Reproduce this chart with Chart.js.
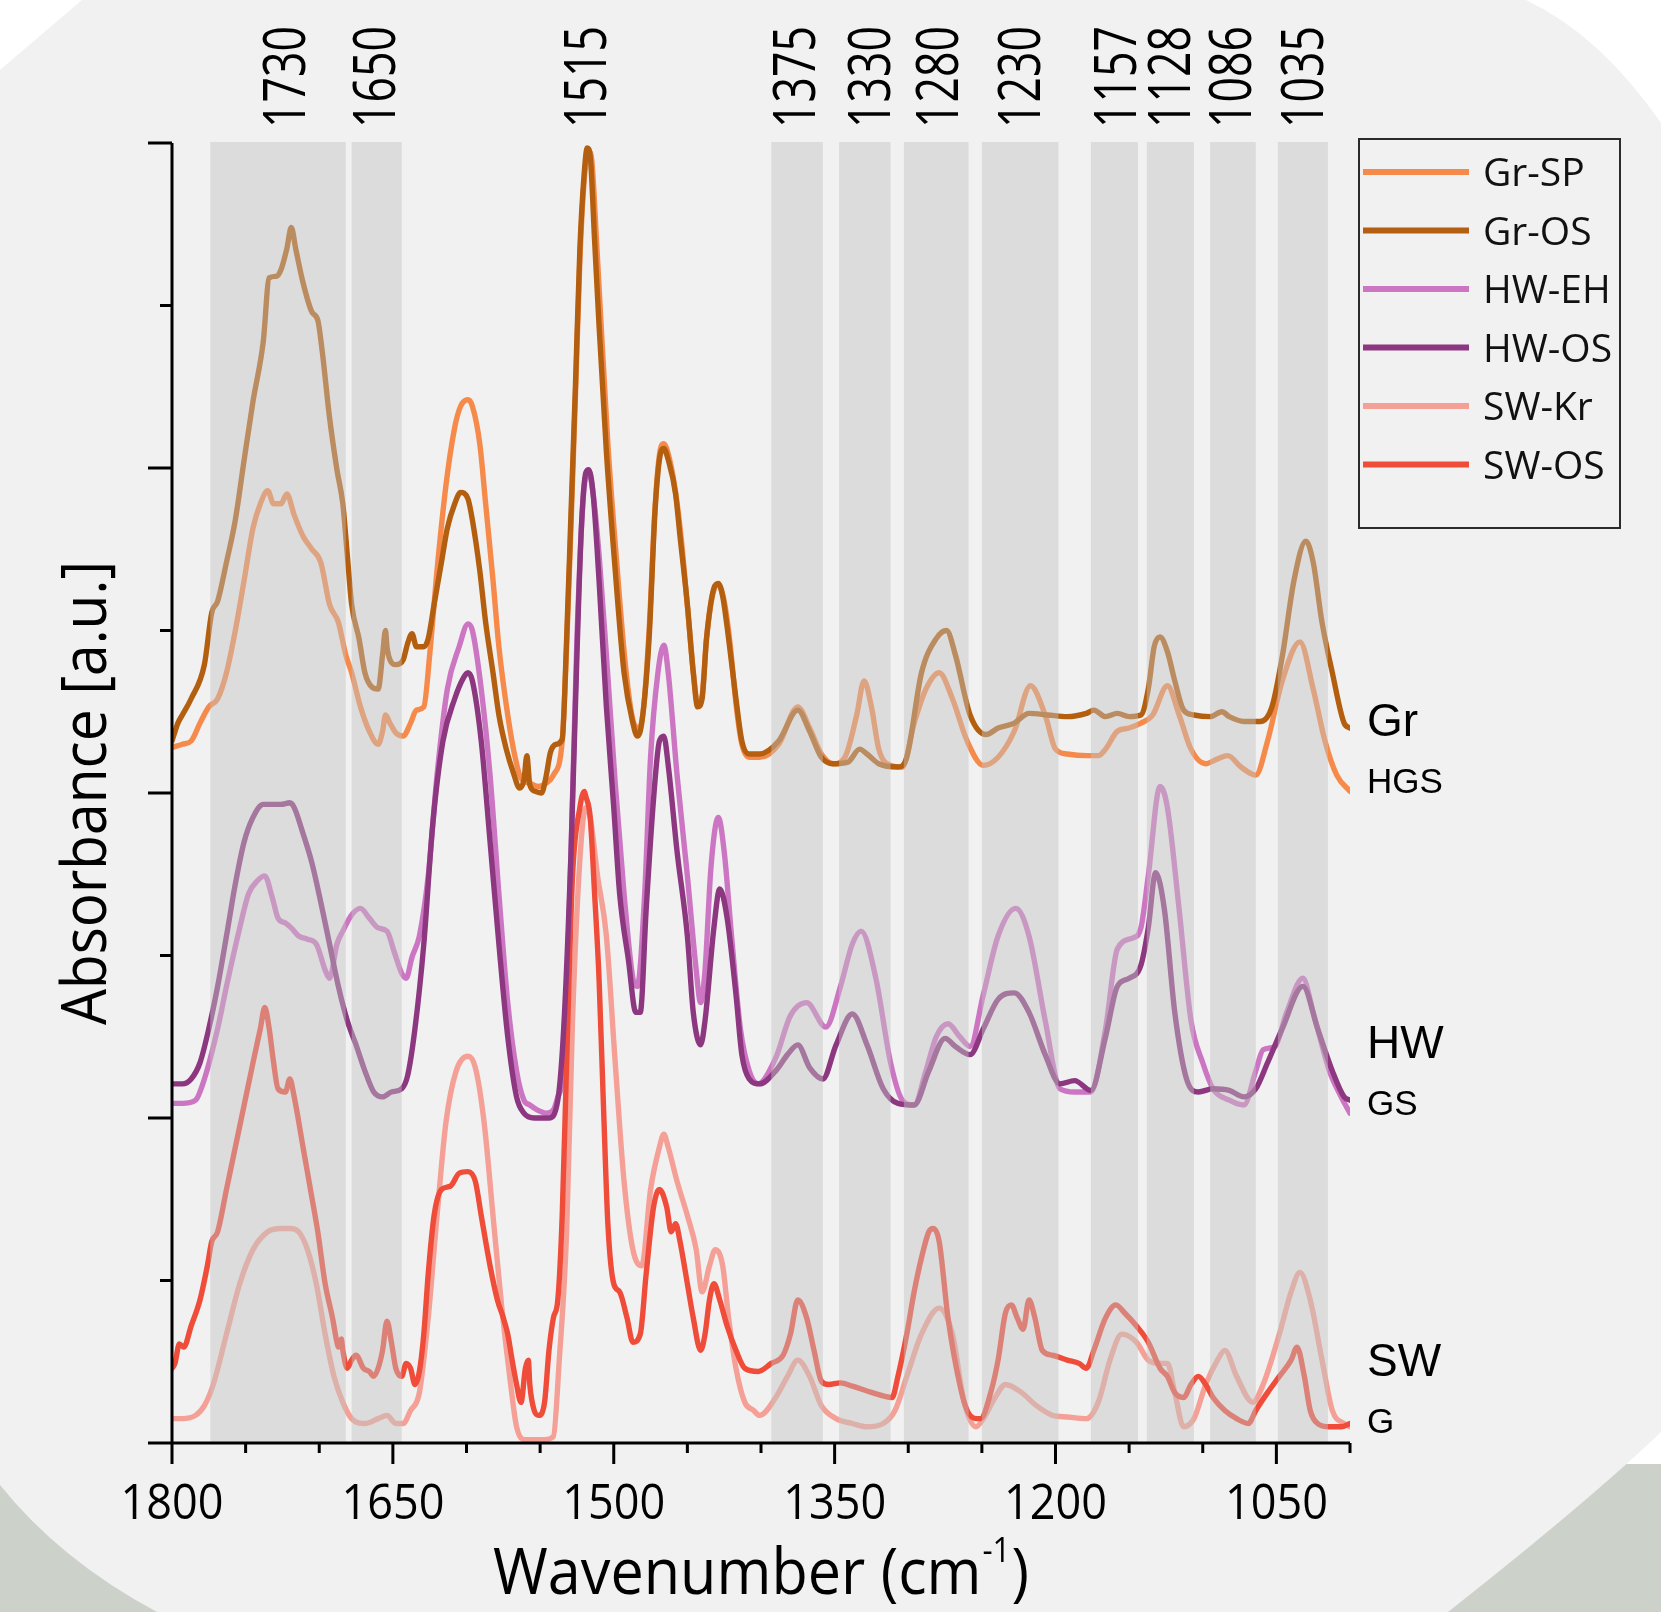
<!DOCTYPE html>
<html>
<head>
<meta charset="utf-8">
<script src="https://cdn.jsdelivr.net/npm/chart.js@4.4.1/dist/chart.umd.min.js"></script>
<style>
  html, body { margin: 0; padding: 0; background: #ffffff; }
  canvas { display: block; }
</style>
</head>
<body>
<canvas id="ftirChart" width="1661" height="1612"></canvas>
<script>
// Wavenumber (cm-1) / absorbance pairs, one pair of arrays per spectrum
const grSpX = [1800,1793,1787,1781,1775,1769,1763,1757,1751,1745,1740,1735,1731,1726,1722,1717,1711,1705,1699,1693,1687,1682,1678,1672,1666,1660,1657,1655,1652,1648,1643,1638,1634,1629,1625,1620,1614,1608,1604,1599,1596,1591,1587,1582,1578,1572,1567,1563,1557,1551,1546,1541,1535,1532,1529,1526,1523,1520,1517,1515,1512,1509,1504,1498,1492,1487,1483,1480,1476,1472,1469,1466,1462,1458,1454,1450,1446,1443,1440,1437,1432,1429,1425,1421,1417,1413,1408,1401,1388,1375,1367,1359,1351,1343,1335,1330,1325,1320,1312,1304,1296,1288,1279,1270,1260,1249,1239,1228,1217,1207,1200,1192,1179,1171,1166,1158,1150,1142,1134,1124,1116,1108,1098,1090,1083,1074,1064,1056,1046,1034,1025,1017,1009,1000];
const grSpY = [4.28,4.30,4.32,4.43,4.53,4.58,4.74,5.00,5.31,5.63,5.78,5.86,5.78,5.78,5.84,5.71,5.58,5.50,5.42,5.16,5.05,4.85,4.74,4.53,4.38,4.30,4.38,4.48,4.43,4.37,4.35,4.43,4.51,4.53,4.85,5.37,5.89,6.25,6.38,6.42,6.38,6.15,5.78,5.31,4.90,4.48,4.22,4.09,4.06,4.04,4.06,4.11,4.32,4.90,5.65,6.45,7.28,7.78,7.95,7.90,7.45,6.95,6.15,5.42,4.78,4.45,4.40,4.50,5.00,5.75,6.08,6.15,6.05,5.85,5.55,5.15,4.75,4.55,4.60,4.95,5.25,5.28,5.18,4.92,4.55,4.30,4.22,4.22,4.30,4.53,4.40,4.24,4.18,4.22,4.48,4.69,4.53,4.27,4.17,4.16,4.43,4.64,4.74,4.58,4.32,4.17,4.22,4.38,4.66,4.48,4.27,4.24,4.23,4.23,4.27,4.38,4.40,4.43,4.48,4.66,4.48,4.27,4.18,4.21,4.23,4.16,4.11,4.32,4.69,4.93,4.64,4.32,4.11,4.01];

const grOsX = [1800,1796,1793,1787,1778,1773,1769,1763,1757,1751,1745,1738,1734,1729,1726,1722,1719,1716,1711,1705,1701,1698,1693,1688,1684,1681,1678,1673,1669,1664,1660,1657,1655,1654,1652,1648,1643,1640,1637,1634,1629,1626,1622,1617,1613,1608,1604,1599,1596,1591,1587,1582,1578,1573,1568,1564,1561,1559,1557,1553,1549,1546,1543,1539,1535,1532,1529,1526,1523,1520,1518,1516,1513,1510,1505,1499,1493,1487,1484,1481,1476,1472,1469,1466,1463,1458,1455,1450,1446,1443,1440,1437,1432,1429,1426,1422,1417,1413,1408,1401,1388,1375,1367,1359,1351,1341,1333,1328,1320,1307,1301,1291,1281,1274,1268,1258,1247,1239,1228,1218,1205,1192,1179,1174,1166,1158,1150,1142,1137,1133,1129,1124,1119,1113,1106,1095,1087,1082,1072,1061,1053,1046,1038,1030,1025,1019,1012,1004,1000];
const grOsY = [4.32,4.43,4.48,4.58,4.79,5.11,5.18,5.42,5.68,6.05,6.41,6.78,7.17,7.18,7.22,7.35,7.48,7.35,7.14,6.96,6.91,6.72,6.31,5.99,5.78,5.47,5.16,4.95,4.74,4.65,4.64,4.85,5.00,4.90,4.82,4.79,4.82,4.92,4.98,4.90,4.90,4.95,5.16,5.42,5.63,5.78,5.85,5.81,5.68,5.37,5.05,4.74,4.48,4.27,4.12,4.03,4.08,4.23,4.05,4.01,4.00,4.10,4.25,4.30,4.33,4.95,5.73,6.51,7.35,7.82,7.97,7.92,7.40,6.88,6.10,5.37,4.74,4.43,4.35,4.43,4.95,5.73,6.05,6.12,6.05,5.84,5.58,5.16,4.74,4.53,4.58,4.95,5.26,5.29,5.21,4.95,4.58,4.32,4.24,4.24,4.32,4.51,4.38,4.22,4.18,4.19,4.27,4.24,4.18,4.16,4.22,4.74,4.95,5.00,4.85,4.48,4.36,4.40,4.43,4.49,4.48,4.47,4.49,4.51,4.47,4.49,4.47,4.48,4.64,4.90,4.96,4.87,4.69,4.51,4.48,4.47,4.50,4.47,4.44,4.44,4.53,4.84,5.31,5.55,5.42,5.05,4.74,4.43,4.40];

const hwEhX = [1800,1793,1784,1778,1769,1763,1754,1748,1742,1737,1732,1728,1723,1719,1714,1708,1702,1696,1693,1688,1684,1678,1672,1666,1660,1654,1649,1644,1641,1637,1632,1626,1620,1613,1605,1599,1596,1590,1584,1578,1572,1566,1561,1557,1552,1546,1541,1538,1535,1532,1529,1525,1520,1517,1514,1510,1505,1499,1493,1487,1484,1479,1475,1470,1466,1463,1457,1450,1444,1441,1438,1434,1429,1425,1420,1414,1408,1402,1390,1380,1369,1356,1346,1338,1332,1322,1312,1304,1296,1288,1281,1273,1265,1258,1249,1239,1227,1218,1207,1197,1187,1176,1166,1158,1147,1142,1137,1129,1124,1116,1108,1100,1093,1082,1072,1064,1059,1051,1043,1032,1025,1014,1006,1000];
const hwEhY = [2.09,2.09,2.11,2.24,2.55,2.81,3.17,3.38,3.46,3.49,3.36,3.23,3.20,3.17,3.12,3.10,3.07,2.91,2.86,3.07,3.15,3.25,3.29,3.23,3.17,3.15,3.02,2.89,2.86,2.99,3.12,3.49,4.11,4.64,4.90,5.04,5.00,4.64,4.11,3.38,2.71,2.29,2.11,2.08,2.05,2.03,2.05,2.13,2.24,2.76,3.64,4.95,5.89,5.97,5.84,5.47,4.85,4.06,3.38,2.86,2.81,3.38,4.22,4.74,4.91,4.74,4.11,3.49,2.91,2.71,2.91,3.54,3.85,3.64,3.12,2.55,2.29,2.21,2.37,2.63,2.71,2.56,2.81,3.07,3.15,2.86,2.34,2.11,2.08,2.29,2.50,2.58,2.50,2.44,2.76,3.12,3.29,3.12,2.60,2.18,2.16,2.16,2.55,3.04,3.11,3.17,3.49,4.04,3.91,3.28,2.60,2.34,2.18,2.11,2.08,2.29,2.42,2.44,2.65,2.86,2.65,2.29,2.13,2.03];

const hwOsX = [1800,1793,1787,1781,1775,1769,1763,1757,1751,1745,1738,1732,1726,1720,1717,1711,1705,1699,1693,1687,1681,1675,1669,1663,1657,1651,1644,1640,1635,1629,1623,1616,1608,1602,1599,1596,1590,1584,1578,1572,1566,1561,1554,1544,1538,1534,1529,1525,1522,1519,1517,1514,1510,1505,1500,1496,1490,1485,1482,1478,1473,1469,1466,1463,1457,1450,1446,1441,1438,1432,1428,1423,1417,1413,1408,1401,1390,1382,1375,1367,1358,1349,1338,1328,1317,1307,1296,1286,1275,1268,1258,1249,1239,1228,1218,1207,1197,1187,1176,1166,1158,1150,1142,1137,1132,1126,1119,1111,1103,1093,1082,1072,1064,1056,1046,1032,1022,1012,1004,1000];
const hwOsY = [2.21,2.21,2.24,2.34,2.55,2.81,3.12,3.44,3.70,3.85,3.93,3.93,3.93,3.94,3.91,3.75,3.57,3.33,3.07,2.81,2.60,2.45,2.29,2.16,2.13,2.16,2.18,2.26,2.55,3.07,3.80,4.32,4.58,4.71,4.74,4.69,4.32,3.70,3.07,2.50,2.13,2.03,2.00,2.00,2.11,2.55,3.64,4.85,5.63,5.97,5.99,5.84,5.31,4.53,3.91,3.38,2.97,2.65,2.65,3.28,3.96,4.32,4.35,4.17,3.64,3.12,2.65,2.45,2.60,3.17,3.41,3.23,2.76,2.39,2.24,2.21,2.29,2.39,2.45,2.31,2.24,2.45,2.64,2.45,2.18,2.09,2.08,2.29,2.49,2.44,2.39,2.55,2.73,2.77,2.65,2.39,2.21,2.23,2.17,2.50,2.81,2.86,2.94,3.17,3.51,3.28,2.65,2.24,2.16,2.18,2.17,2.13,2.18,2.34,2.55,2.81,2.55,2.29,2.13,2.11];

const swKrX = [1800,1793,1784,1778,1772,1763,1754,1745,1735,1726,1720,1714,1708,1702,1696,1690,1684,1678,1669,1660,1654,1648,1643,1638,1632,1626,1620,1614,1607,1599,1594,1588,1582,1576,1570,1566,1560,1547,1541,1537,1532,1528,1523,1519,1516,1511,1505,1499,1493,1487,1481,1475,1469,1466,1463,1457,1450,1444,1440,1435,1431,1426,1422,1417,1411,1405,1401,1390,1382,1375,1367,1359,1349,1338,1328,1317,1309,1301,1291,1279,1270,1262,1254,1249,1241,1234,1223,1213,1202,1192,1179,1171,1163,1155,1145,1137,1129,1124,1119,1113,1106,1098,1090,1085,1077,1066,1059,1048,1040,1034,1027,1019,1012,1004,1000];
const swKrY = [0.15,0.15,0.17,0.23,0.36,0.67,0.98,1.19,1.30,1.32,1.32,1.30,1.19,0.98,0.67,0.41,0.25,0.15,0.12,0.15,0.17,0.12,0.12,0.20,0.31,0.77,1.40,1.97,2.29,2.38,2.31,1.97,1.40,0.83,0.36,0.10,0.02,0.02,0.04,0.51,1.30,2.60,3.59,3.91,3.85,3.49,3.12,2.34,1.61,1.19,1.09,1.56,1.82,1.90,1.82,1.61,1.40,1.19,0.93,1.09,1.19,1.09,0.77,0.46,0.25,0.20,0.17,0.28,0.41,0.51,0.41,0.23,0.15,0.12,0.10,0.12,0.20,0.41,0.67,0.83,0.67,0.25,0.10,0.15,0.28,0.36,0.31,0.23,0.17,0.16,0.15,0.25,0.51,0.67,0.62,0.51,0.49,0.49,0.31,0.10,0.15,0.36,0.51,0.57,0.41,0.25,0.36,0.67,0.93,1.05,0.88,0.51,0.20,0.12,0.10];

const swOsX = [1800,1798,1795,1792,1787,1781,1776,1773,1769,1763,1757,1751,1745,1740,1737,1734,1731,1728,1723,1720,1717,1711,1705,1701,1696,1691,1688,1687,1685,1684,1681,1678,1675,1670,1666,1663,1660,1657,1654,1651,1648,1644,1641,1638,1635,1632,1629,1626,1622,1617,1611,1605,1599,1594,1590,1584,1579,1575,1572,1569,1566,1563,1560,1558,1557,1554,1551,1547,1544,1541,1538,1535,1532,1528,1523,1520,1519,1516,1513,1510,1507,1504,1500,1496,1491,1487,1482,1478,1473,1469,1464,1461,1458,1455,1450,1446,1441,1438,1435,1432,1428,1423,1417,1411,1402,1393,1385,1380,1375,1369,1364,1359,1354,1346,1338,1328,1317,1311,1307,1301,1296,1291,1286,1283,1279,1273,1265,1260,1254,1251,1244,1239,1234,1230,1226,1222,1218,1214,1209,1202,1192,1184,1179,1174,1166,1159,1153,1145,1137,1129,1124,1119,1113,1108,1103,1098,1093,1085,1077,1069,1064,1056,1048,1040,1036,1031,1027,1022,1014,1006,1000];
const swOsY = [0.46,0.49,0.61,0.59,0.72,0.88,1.09,1.24,1.30,1.56,1.82,2.08,2.34,2.55,2.68,2.55,2.34,2.18,2.16,2.24,2.13,1.82,1.51,1.30,0.98,0.77,0.62,0.59,0.64,0.57,0.46,0.51,0.54,0.46,0.44,0.41,0.46,0.57,0.75,0.62,0.46,0.41,0.49,0.46,0.36,0.44,0.67,1.04,1.40,1.56,1.58,1.66,1.67,1.61,1.40,1.09,0.88,0.77,0.67,0.51,0.36,0.25,0.46,0.51,0.36,0.20,0.17,0.25,0.57,0.77,0.88,1.40,2.34,3.49,3.91,4.01,3.98,3.85,3.38,2.86,2.08,1.35,0.98,0.93,0.77,0.62,0.67,1.04,1.45,1.56,1.45,1.30,1.35,1.24,0.98,0.77,0.57,0.67,0.88,0.98,0.88,0.72,0.57,0.46,0.44,0.49,0.54,0.67,0.88,0.77,0.57,0.38,0.36,0.37,0.35,0.32,0.29,0.28,0.41,0.67,0.93,1.14,1.30,1.32,1.24,0.77,0.36,0.20,0.15,0.15,0.31,0.51,0.80,0.85,0.77,0.70,0.88,0.77,0.57,0.54,0.51,0.49,0.46,0.57,0.77,0.85,0.80,0.72,0.62,0.46,0.41,0.31,0.28,0.36,0.41,0.36,0.28,0.20,0.15,0.12,0.20,0.31,0.41,0.51,0.59,0.41,0.20,0.12,0.10,0.10,0.12];

// shaded assignment regions (from, to) and their labels above the plot
const bandRanges = [[1774,1682],[1678,1644],[1393,1358],[1347,1312],[1303,1259],[1250,1198],[1176,1144],[1138,1106],[1095,1064],[1049,1015]];
const peakLabels = ['1730','1650','1515','1375','1330','1280','1230','1157','1128','1086','1035'];
const peakLabelAt = [1723,1662,1519,1377,1326,1280,1224,1159,1122,1081,1032];

const xTickLabels = [1800,1650,1500,1350,1200,1050];

// group tags on the right side: text and the absorbance level of their baseline
const groupTags = ['Gr','HGS','HW','GS','SW','G'];
const groupTagLevels = [4.35,4.00,2.37,2.02,0.41,0.06];

const W = 1661, H = 1612;
const SANS = '"Open Sans", "Noto Sans", sans-serif';
const ARIAL = '"Liberation Sans", Arial, sans-serif';

function pairs(xs, ys) { return xs.map((x, i) => ({ x: x, y: ys[i] })); }

const series = [
  { label: 'Gr-SP', x: grSpX, y: grSpY, color: '#f58a4b', order: 4 },
  { label: 'Gr-OS', x: grOsX, y: grOsY, color: '#b45f0f', order: 1 },
  { label: 'HW-EH', x: hwEhX, y: hwEhY, color: '#cc76c3', order: 5 },
  { label: 'HW-OS', x: hwOsX, y: hwOsY, color: '#8c3780', order: 2 },
  { label: 'SW-Kr', x: swKrX, y: swKrY, color: '#f4a096', order: 6 },
  { label: 'SW-OS', x: swOsX, y: swOsY, color: '#ef4c39', order: 3 }
];

// scaled text helper: sx squeezes the text along its own direction
function putText(ctx, str, x, y, font, align, sx, rot) {
  ctx.save();
  ctx.translate(x, y);
  if (rot) ctx.rotate(rot);
  ctx.scale(sx || 1, 1);
  ctx.font = font;
  ctx.textAlign = align || 'left';
  ctx.textBaseline = 'alphabetic';
  ctx.fillText(str, 0, 0);
  ctx.restore();
}

function squeezeFor(ctx, str, font, target) {
  ctx.save();
  ctx.font = font;
  const w = ctx.measureText(str).width;
  ctx.restore();
  return Math.min(1, target / w);
}

const backdrop = {
  id: 'backdrop',
  beforeDraw(chart) {
    const ctx = chart.ctx;
    ctx.save();
    ctx.fillStyle = '#ffffff';
    ctx.fillRect(0, 0, W, H);
    ctx.fillStyle = '#ccd2c9';
    ctx.fillRect(0, 1400, 260, H - 1400);
    ctx.fillRect(1400, 1464, W - 1400, H - 1464);
    ctx.fillStyle = '#f1f1f1';
    ctx.beginPath();
    ctx.moveTo(82, 0);
    ctx.lineTo(1526, 0);
    ctx.quadraticCurveTo(1600, 35, 1661, 123);
    ctx.lineTo(1661, 1432);
    ctx.quadraticCurveTo(1590, 1500, 1448, 1612);
    ctx.lineTo(157, 1612);
    ctx.quadraticCurveTo(60, 1560, 0, 1485);
    ctx.lineTo(0, 70);
    ctx.closePath();
    ctx.fill();
    ctx.restore();
  }
};

// grey bands sit over the spectra, so the lines read paler inside them
const bands = {
  id: 'bands',
  afterDatasetsDraw(chart) {
    const { ctx, chartArea: a, scales: { x } } = chart;
    ctx.save();
    ctx.fillStyle = 'rgba(196,196,196,0.45)';
    bandRanges.forEach(r => {
      const x0 = x.getPixelForValue(r[0]);
      const x1 = x.getPixelForValue(r[1]);
      ctx.fillRect(x0, a.top - 1, x1 - x0, a.bottom - a.top + 1);
    });
    ctx.restore();
  }
};

const frame = {
  id: 'frame',
  afterDraw(chart) {
    const { ctx, chartArea: a, scales: { x, y } } = chart;
    ctx.save();
    ctx.strokeStyle = '#000';
    ctx.fillStyle = '#000';
    ctx.lineWidth = 3;

    // axes and ticks
    ctx.beginPath();
    ctx.moveTo(a.left, a.top);
    ctx.lineTo(a.left, a.bottom);
    ctx.moveTo(a.left, a.bottom);
    ctx.lineTo(a.right, a.bottom);
    for (let v = 1800; v >= 1000; v -= 50) {
      const px = x.getPixelForValue(v);
      const major = (1800 - v) % 150 === 0;
      ctx.moveTo(px, a.bottom);
      ctx.lineTo(px, a.bottom + (major ? 21 : 10));
    }
    for (let v = 0; v <= 8; v++) {
      const py = y.getPixelForValue(v);
      ctx.moveTo(a.left, py);
      ctx.lineTo(a.left - (v % 2 === 0 ? 24 : 12), py);
    }
    ctx.stroke();

    // x tick labels
    const tickFont = '49px ' + SANS;
    const tsx = squeezeFor(ctx, '1800', tickFont, 103);
    xTickLabels.forEach(v => {
      putText(ctx, String(v), x.getPixelForValue(v), 1519, tickFont, 'center', tsx);
    });

    // x title with superscript
    const tFont = '64px ' + SANS, supFont = '34px ' + SANS;
    ctx.font = tFont;
    const w1 = ctx.measureText('Wavenumber (cm').width;
    const w3 = ctx.measureText(')').width;
    ctx.font = supFont;
    const w2 = ctx.measureText('-1').width + 2;
    const total = w1 + w2 + w3;
    const sx = 536 / total;
    const cx = (a.left + a.right) / 2;
    ctx.save();
    ctx.translate(cx - total * sx / 2, 1594);
    ctx.scale(sx, 1);
    ctx.textBaseline = 'alphabetic';
    ctx.textAlign = 'left';
    ctx.font = tFont;
    ctx.fillText('Wavenumber (cm', 0, 0);
    ctx.font = supFont;
    ctx.fillText('-1', w1 + 1, -32);
    ctx.font = tFont;
    ctx.fillText(')', w1 + w2, 0);
    ctx.restore();

    // y title
    const yFont = '62px ' + SANS;
    const ysx = squeezeFor(ctx, 'Absorbance [a.u.]', yFont, 464);
    putText(ctx, 'Absorbance [a.u.]', 106, (a.top + a.bottom) / 2, yFont, 'center', ysx, -Math.PI / 2);

    // peak labels above the plot, reading upwards
    const pFont = '58px ' + SANS;
    const psx = squeezeFor(ctx, '1730', pFont, 102);
    peakLabels.forEach((t, i) => {
      const px = x.getPixelForValue(peakLabelAt[i]);
      putText(ctx, t, px + 20, 128, pFont, 'left', psx, -Math.PI / 2);
    });

    // group tags at the right end of the traces
    groupTags.forEach((t, i) => {
      const big = i % 2 === 0;
      putText(ctx, t, a.right + 17, y.getPixelForValue(groupTagLevels[i]),
        (big ? '46px ' : '35px ') + ARIAL, 'left', 1);
    });

    // legend box
    const lx = 1359, ly = 139, lw = 261, lh = 389;
    ctx.lineWidth = 2;
    ctx.strokeStyle = '#2b2b2b';
    ctx.strokeRect(lx, ly, lw, lh);
    chart.data.datasets.forEach((ds, i) => {
      const ry = 172 + i * 58.5;
      ctx.beginPath();
      ctx.strokeStyle = ds.borderColor;
      ctx.lineWidth = 6;
      ctx.moveTo(1363, ry);
      ctx.lineTo(1469, ry);
      ctx.stroke();
      ctx.fillStyle = '#111';
      putText(ctx, ds.label, 1483, ry + 14, '39px ' + SANS, 'left', 1);
    });
    ctx.restore();
  }
};

new Chart(document.getElementById('ftirChart').getContext('2d'), {
  type: 'line',
  data: {
    datasets: series.map(s => ({
      label: s.label,
      data: pairs(s.x, s.y),
      borderColor: s.color,
      backgroundColor: s.color,
      borderWidth: 5.4,
      borderJoinStyle: 'round',
      borderCapStyle: 'round',
      pointRadius: 0,
      fill: false,
      cubicInterpolationMode: 'monotone',
      order: s.order
    }))
  },
  options: {
    responsive: false,
    animation: false,
    devicePixelRatio: 1,
    layout: { padding: { left: 172, right: 311, top: 143, bottom: 169 } },
    plugins: { legend: { display: false }, tooltip: { enabled: false } },
    scales: {
      x: { type: 'linear', reverse: true, min: 1000, max: 1800, display: false },
      y: { type: 'linear', min: 0, max: 8, display: false }
    }
  },
  plugins: [backdrop, bands, frame]
});
</script>
</body>
</html>
